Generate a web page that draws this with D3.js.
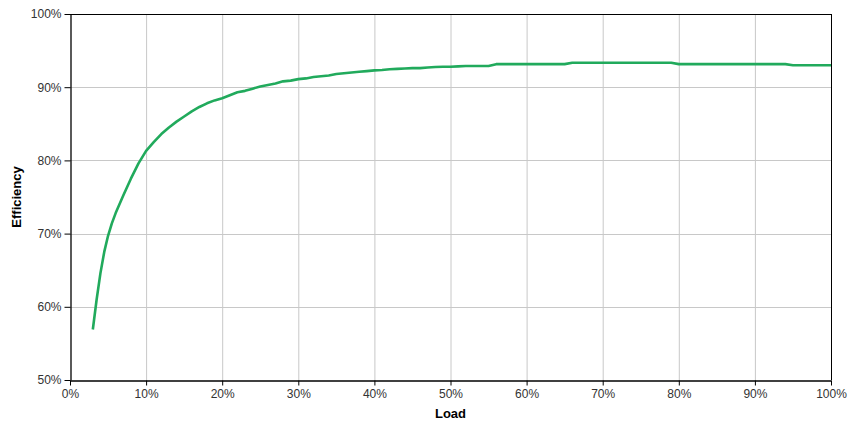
<!DOCTYPE html>
<html>
<head>
<meta charset="utf-8">
<script src="https://cdn.jsdelivr.net/npm/d3@7"></script>
<style>
  html, body { margin: 0; padding: 0; background: #fff; }
  svg { display: block; font-family: "Liberation Sans", Arial, sans-serif; }
</style>
</head>
<body>
<svg id="chart" width="851" height="425"></svg>
<script>
// Load (%) values
const loads = [3,3.5,4,4.5,5,5.5,6,7,8,9,10,11,12,13,14,15,16,17,18,19,20,21,22,23,24,25,26,27,28,29,30,
  31,32,33,34,35,36,37,38,39,40,41,42,43,44,45,46,47,48,49,50,51,52,53,54,55,56,57,58,59,60,
  61,62,63,64,65,66,67,68,69,70,71,72,73,74,75,76,77,78,79,80,81,82,83,84,85,86,87,88,89,90,
  91,92,93,94,95,96,97,98,99,100];
// Efficiency (%) values
const efficiency = [56.9,61.0,64.6,67.5,69.7,71.4,72.8,75.2,77.5,79.6,81.3,82.5,83.6,84.5,85.3,86.0,86.7,87.3,87.8,88.2,88.5,88.9,89.3,89.5,89.8,90.1,90.3,90.5,90.8,90.9,91.1,
  91.2,91.4,91.5,91.6,91.8,91.9,92.0,92.1,92.2,92.3,92.35,92.45,92.5,92.55,92.6,92.6,92.7,92.75,92.8,92.8,92.85,92.9,92.9,92.9,92.9,93.15,93.15,93.15,93.15,93.15,
  93.15,93.15,93.15,93.15,93.15,93.35,93.35,93.35,93.35,93.35,93.35,93.35,93.35,93.35,93.35,93.35,93.35,93.35,93.35,93.15,93.15,93.15,93.15,93.15,93.15,93.15,93.15,93.15,93.15,93.15,
  93.15,93.15,93.15,93.15,93.0,93.0,93.0,93.0,93.0,93.0];
const xTicks = [0,10,20,30,40,50,60,70,80,90,100];
const yTicks = [50,60,70,80,90,100];
const xTitle = "Load";
const yTitle = "Efficiency";

const svg = d3.select("#chart");
const m = { left: 70, right: 20, top: 14, bottom: 45 };
const x = d3.scaleLinear().domain([0, 100]).range([m.left, 831]);
const y = d3.scaleLinear().domain([50, 100]).range([380, m.top]);

// gridlines
svg.append("g").selectAll("line").data(xTicks.slice(1, -1)).join("line")
  .attr("x1", d => x(d) + 0.5).attr("x2", d => x(d) + 0.5)
  .attr("y1", y(100)).attr("y2", y(50))
  .attr("stroke", "#c8c8c8").attr("stroke-width", 1);
svg.append("g").selectAll("line").data(yTicks.slice(1, -1)).join("line")
  .attr("x1", x(0)).attr("x2", x(100))
  .attr("y1", d => Math.round(y(d)) + 0.5).attr("y2", d => Math.round(y(d)) + 0.5)
  .attr("stroke", "#c8c8c8").attr("stroke-width", 1);

// frame top & right
svg.append("line").attr("x1", x(0)).attr("x2", x(100)).attr("y1", y(100) + 0.5).attr("y2", y(100) + 0.5)
  .attr("stroke", "#000");
svg.append("line").attr("x1", x(100) + 0.5).attr("x2", x(100) + 0.5).attr("y1", y(100)).attr("y2", y(50))
  .attr("stroke", "#000");

// axes
const xAxis = d3.axisBottom(x).tickValues(xTicks).tickFormat(d => d + "%").tickSizeInner(5).tickSizeOuter(0).tickPadding(4);
const yAxis = d3.axisLeft(y).tickValues(yTicks).tickFormat(d => d + "%").tickSizeInner(6).tickSizeOuter(0).tickPadding(3);
const gx = svg.append("g").attr("transform", `translate(0,${Math.round(y(50)) + 0.5})`).call(xAxis);
const gy = svg.append("g").attr("transform", `translate(${x(0) + 0.5},0)`).call(yAxis);
[gx, gy].forEach(g => {
  g.select(".domain").attr("stroke", "#000").attr("stroke-width", 1.3);
  g.selectAll(".tick line").attr("stroke", "#000");
  g.selectAll(".tick text").attr("fill", "#333").attr("font-size", 12)
    .attr("font-family", "'Liberation Sans', Arial, sans-serif");
});

// line
const line = d3.line().x((d, i) => x(loads[i])).y(d => y(d)).curve(d3.curveLinear);
svg.append("path").datum(efficiency)
  .attr("d", line)
  .attr("fill", "none")
  .attr("stroke", "#21aa5c")
  .attr("stroke-width", 2.6)
  .attr("stroke-linejoin", "round");

// titles
svg.append("text").attr("x", (x(0) + x(100)) / 2).attr("y", 418)
  .attr("text-anchor", "middle").attr("font-weight", "bold").attr("font-size", 13)
  .attr("fill", "#000").text(xTitle);
svg.append("text").attr("transform", `translate(21,${(y(50) + y(100)) / 2}) rotate(-90)`)
  .attr("text-anchor", "middle").attr("font-weight", "bold").attr("font-size", 13)
  .attr("fill", "#000").text(yTitle);
</script>
</body>
</html>
